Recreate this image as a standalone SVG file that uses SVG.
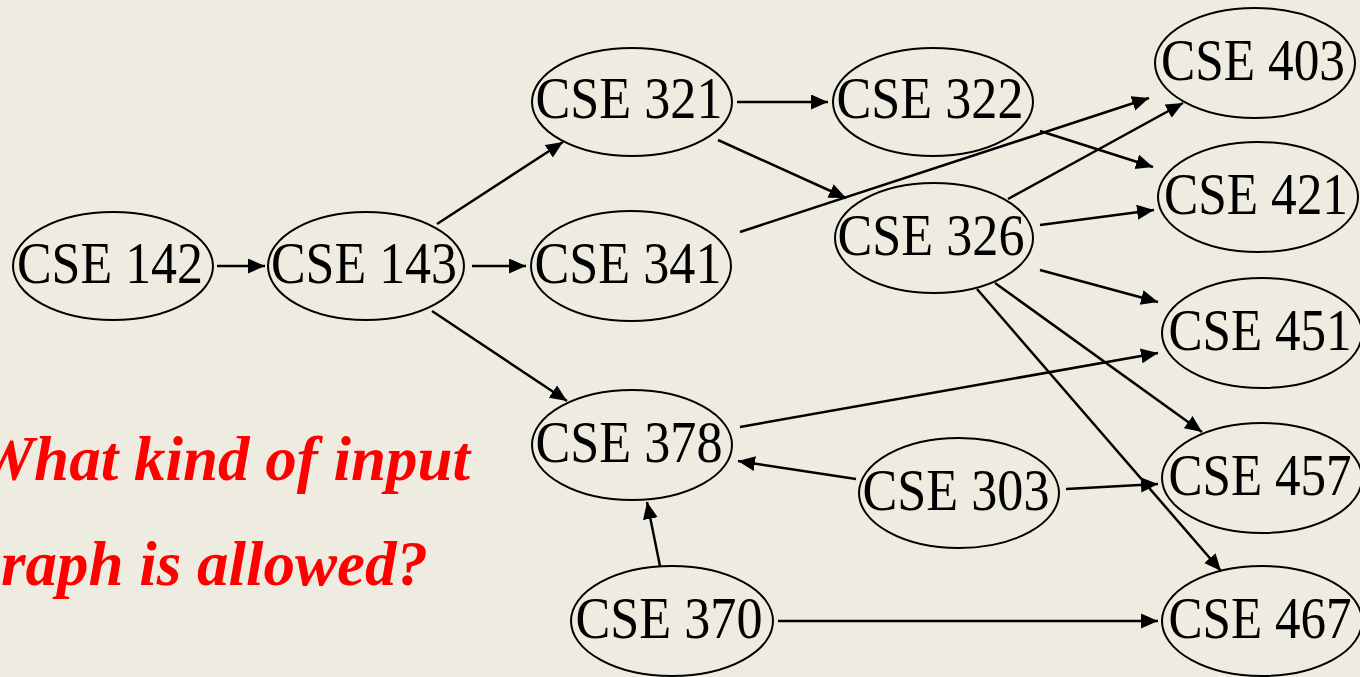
<svg xmlns="http://www.w3.org/2000/svg" width="1360" height="677" viewBox="0 0 1360 677">
  <defs>
    <style>
      .node ellipse { fill: none; stroke: #000; stroke-width: 2; }
      .node text { font-family: "Liberation Serif", "Times New Roman", serif; font-size: 60px; fill: #000; text-anchor: middle; }
      .edges line { stroke: #000; stroke-width: 2.5; marker-end: url(#arrow); }
      .question { font-family: "Liberation Serif", "Times New Roman", serif; font-size: 63px; font-weight: bold; font-style: italic; fill: #FF0000; text-anchor: end; }
    </style>
    <marker id="arrow" markerUnits="userSpaceOnUse" markerWidth="19" markerHeight="16" refX="17" refY="7.5" orient="auto">
      <path d="M0,0 L17,7.5 L0,15 Z" fill="#000"/>
    </marker>
  </defs>

  <rect width="1360" height="677" fill="#EEECE1"/>

  <!-- prerequisite edges -->
  <g id="edges" class="edges">
    <line x1="217" y1="266" x2="265" y2="266"/>
    <line x1="437" y1="224" x2="563" y2="142"/>
    <line x1="472" y1="266" x2="526" y2="266"/>
    <line x1="432" y1="311" x2="567" y2="401"/>
    <line x1="737" y1="102" x2="828" y2="102"/>
    <line x1="718" y1="140" x2="846" y2="198"/>
    <line x1="740" y1="232" x2="1149" y2="98"/>
    <line x1="1040" y1="131" x2="1153" y2="167"/>
    <line x1="1008" y1="199" x2="1183" y2="103"/>
    <line x1="1040" y1="225" x2="1154" y2="210"/>
    <line x1="1040" y1="270" x2="1158" y2="302"/>
    <line x1="995" y1="283" x2="1202" y2="432"/>
    <line x1="977" y1="289" x2="1221" y2="571"/>
    <line x1="740" y1="427" x2="1158" y2="353"/>
    <line x1="856" y1="479" x2="738" y2="461"/>
    <line x1="1066" y1="489" x2="1158" y2="484"/>
    <line x1="660" y1="566" x2="647" y2="502"/>
    <line x1="778" y1="621" x2="1158" y2="621"/>
  </g>

  <g id="cse142" class="node"><ellipse cx="113" cy="266" rx="100" ry="54"/><text x="110" y="283" textLength="186" lengthAdjust="spacingAndGlyphs">CSE 142</text></g>
  <g id="cse143" class="node"><ellipse cx="366" cy="266" rx="98" ry="54"/><text x="364" y="283" textLength="186" lengthAdjust="spacingAndGlyphs">CSE 143</text></g>
  <g id="cse321" class="node"><ellipse cx="632" cy="102" rx="100" ry="54"/><text x="629" y="118" textLength="187" lengthAdjust="spacingAndGlyphs">CSE 321</text></g>
  <g id="cse322" class="node"><ellipse cx="933" cy="102" rx="100" ry="54"/><text x="930" y="118" textLength="187" lengthAdjust="spacingAndGlyphs">CSE 322</text></g>
  <g id="cse341" class="node"><ellipse cx="631" cy="266" rx="100" ry="55"/><text x="628" y="283" textLength="187" lengthAdjust="spacingAndGlyphs">CSE 341</text></g>
  <g id="cse326" class="node"><ellipse cx="934" cy="238" rx="99" ry="55"/><text x="931" y="255" textLength="187" lengthAdjust="spacingAndGlyphs">CSE 326</text></g>
  <g id="cse378" class="node"><ellipse cx="632" cy="445" rx="100" ry="55"/><text x="629" y="462" textLength="187" lengthAdjust="spacingAndGlyphs">CSE 378</text></g>
  <g id="cse303" class="node"><ellipse cx="959" cy="493" rx="100" ry="55"/><text x="956" y="510" textLength="187" lengthAdjust="spacingAndGlyphs">CSE 303</text></g>
  <g id="cse370" class="node"><ellipse cx="672" cy="621" rx="101" ry="55"/><text x="669" y="638" textLength="187" lengthAdjust="spacingAndGlyphs">CSE 370</text></g>
  <g id="cse403" class="node"><ellipse cx="1255" cy="63" rx="100" ry="55"/><text x="1253" y="80" textLength="184" lengthAdjust="spacingAndGlyphs">CSE 403</text></g>
  <g id="cse421" class="node"><ellipse cx="1258" cy="197" rx="100" ry="55"/><text x="1256" y="214" textLength="184" lengthAdjust="spacingAndGlyphs">CSE 421</text></g>
  <g id="cse451" class="node"><ellipse cx="1262" cy="333" rx="100" ry="55"/><text x="1260" y="350" textLength="183" lengthAdjust="spacingAndGlyphs">CSE 451</text></g>
  <g id="cse457" class="node"><ellipse cx="1262" cy="478" rx="100" ry="55"/><text x="1260" y="495" textLength="183" lengthAdjust="spacingAndGlyphs">CSE 457</text></g>
  <g id="cse467" class="node"><ellipse cx="1262" cy="621" rx="100" ry="55"/><text x="1260" y="638" textLength="183" lengthAdjust="spacingAndGlyphs">CSE 467</text></g>

  <g id="question">
    <text class="question" x="470" y="480">What kind of input</text>
    <text class="question" x="428" y="585">raph is allowed?</text>
  </g>
</svg>
